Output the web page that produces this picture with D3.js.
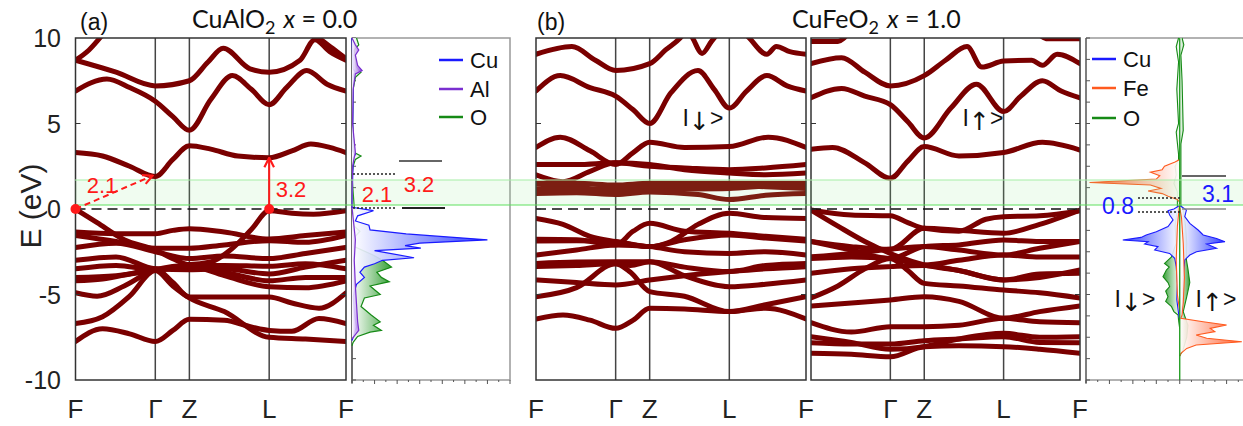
<!doctype html>
<html lang="en">
<head>
<meta charset="utf-8" />
<title>CuAlO2 / CuFeO2 band structure</title>
<style>
  html, body { margin: 0; padding: 0; background: #fff; }
  svg { display: block; font-family: "Liberation Sans", Arial, sans-serif; }
</style>
</head>
<body>
<svg id="chart" width="1243" height="426"></svg>
<script src="https://cdn.jsdelivr.net/npm/d3@7"></script>
<script>

// k-path (fractional distance along F-Γ-Z-L-F)
var kTicks = [0, 0.295, 0.421, 0.716, 1];
var kLabels = ['F', 'Γ', 'Z', 'L', 'F'];
var eTicks = [10, 5, 0, -5, -10];

// bands, CuAlO2 (x = 0.0) : [k, E]
var bandsAlO = [
  [[0,3.3],[0.1,3.1],[0.2,2.5],[0.295,1.9],[0.36,2.9],[0.421,3.7],[0.5,3.5],[0.6,3.1],[0.716,3.0],[0.8,3.4],[0.87,3.8],[0.94,3.6],[1,3.3]],
  [[0,6.9],[0.116,7.6],[0.2,7.1],[0.295,6.3],[0.36,5.4],[0.421,4.6],[0.5,6.4],[0.58,7.8],[0.65,7.0],[0.716,6.1],[0.78,7.1],[0.855,8.1],[0.93,7.3],[1,6.9]],
  [[0,8.7],[0.15,8.0],[0.295,7.2],[0.421,7.5],[0.49,8.6],[0.546,9.4],[0.645,8.2],[0.716,8.0],[0.83,8.7],[0.885,9.9],[0.94,9.2],[1,8.7]],
  [[0,8.7],[0.05,9.3],[0.09,10.0],[0.12,10.6]],
  [[0.87,10.4],[0.9,10.0],[0.95,9.4],[1,8.8]],
  [[0,0],[0.08,-0.8],[0.18,-1.8],[0.295,-2.4],[0.36,-2.9],[0.421,-3.25],[0.5,-3.1],[0.58,-2.3],[0.65,-1.2],[0.716,-0.1],[0.8,-0.25],[0.88,-0.3],[1,-0.1]],
  [[0,-1.35],[0.15,-1.45],[0.295,-1.45],[0.36,-1.25],[0.421,-1.15],[0.55,-1.35],[0.716,-1.75],[0.85,-1.55],[1,-1.35]],
  [[0,-1.55],[0.15,-1.9],[0.295,-2.3],[0.421,-2.3],[0.55,-2.1],[0.716,-1.85],[0.85,-1.95],[1,-1.55]],
  [[0,-2.25],[0.15,-2.0],[0.295,-2.5],[0.421,-2.9],[0.55,-2.75],[0.716,-2.9],[0.85,-2.6],[1,-2.25]],
  [[0,-3.0],[0.15,-2.8],[0.295,-3.5],[0.421,-3.55],[0.55,-3.5],[0.716,-3.8],[0.85,-3.4],[1,-3.0]],
  [[0,-3.5],[0.15,-3.3],[0.295,-3.55],[0.421,-3.35],[0.55,-3.9],[0.716,-4.55],[0.85,-4.6],[1,-4.2]],
  [[0,-4.0],[0.15,-3.9],[0.295,-3.6],[0.421,-3.4],[0.55,-3.7],[0.716,-4.2],[0.85,-4.0],[1,-4.0]],
  [[0,-4.2],[0.1,-4.1],[0.2,-3.8],[0.295,-3.5],[0.36,-4.3],[0.421,-5.15],[0.55,-5.15],[0.716,-5.15],[0.8,-5.5],[0.9,-5.8],[1,-4.9]],
  [[0,-4.9],[0.08,-5.1],[0.18,-4.5],[0.295,-3.55],[0.421,-3.3],[0.55,-3.3],[0.716,-3.35],[0.85,-3.2],[1,-3.5]],
  [[0,-6.7],[0.1,-6.3],[0.2,-5.1],[0.295,-3.6],[0.36,-4.5],[0.421,-5.2],[0.55,-6.0],[0.716,-7.5],[0.85,-7.6],[1,-7.75]],
  [[0,-7.75],[0.1,-7.0],[0.2,-7.3],[0.295,-7.75],[0.36,-7.1],[0.421,-6.45],[0.55,-6.5],[0.65,-6.9],[0.716,-7.1],[0.8,-7.15],[0.9,-6.4],[1,-6.7]]
];

// bands, CuFeO2 (x = 1.0) spin down
var bandsFeDn = [
  [[0,9.05],[0.133,9.5],[0.22,8.7],[0.295,8.1],[0.421,8.5],[0.48,9.3],[0.54,10.1],[0.56,10.5]],
  [[0.56,10.5],[0.58,10],[0.615,9.1],[0.65,9.8],[0.67,10.2]],
  [[0.76,10.5],[0.79,10],[0.855,9.05],[0.89,9.5],[0.94,9.2],[1,9.05]],
  [[0,6.9],[0.09,7.8],[0.2,7.1],[0.295,6.6],[0.36,5.8],[0.421,5.0],[0.5,6.8],[0.6,8.1],[0.66,7.0],[0.716,5.9],[0.78,6.9],[0.855,7.8],[0.93,7.2],[1,6.9]],
  [[0,3.6],[0.09,4.2],[0.2,3.4],[0.295,2.6],[0.36,3.3],[0.421,3.9],[0.55,3.6],[0.716,3.65],[0.86,4.2],[1,3.6]],
  [[0,2.6],[0.15,2.6],[0.295,2.7],[0.421,2.5],[0.55,2.4],[0.716,2.3],[0.85,2.4],[1,2.6]],
  [[0,2.0],[0.1,1.6],[0.2,2.2],[0.295,2.7],[0.421,2.6],[0.55,2.3],[0.716,2.1],[0.85,2.0],[1,2.1]],
  [[0,1.5],[0.15,1.5],[0.295,1.4],[0.421,1.5],[0.716,1.5],[0.85,1.5],[1,1.5]],
  [[0,1.45],[0.15,1.3],[0.295,1.0],[0.421,1.15],[0.716,1.2],[0.85,1.35],[1,1.45]],
  [[0,1.15],[0.15,1.15],[0.295,1.25],[0.421,1.35],[0.716,1.4],[0.85,1.3],[1,1.2]],
  [[0,0.9],[0.15,0.95],[0.295,0.85],[0.421,1.0],[0.6,0.85],[0.716,0.55],[0.85,0.8],[1,0.9]],
  [[0,-0.55],[0.1,-0.9],[0.2,-1.6],[0.295,-1.9],[0.421,-2.2],[0.5,-1.9],[0.6,-0.9],[0.716,-0.25],[0.85,-0.5],[1,-0.55]],
  [[0,-1.77],[0.15,-1.8],[0.295,-2.1],[0.36,-1.3],[0.421,-0.84],[0.55,-1.3],[0.716,-1.42],[0.85,-1.6],[1,-1.77]],
  [[0,-1.87],[0.15,-1.85],[0.295,-1.91],[0.421,-2.2],[0.55,-1.8],[0.716,-1.52],[0.85,-1.7],[1,-1.87]],
  [[0,-2.69],[0.15,-2.4],[0.295,-2.1],[0.421,-2.2],[0.55,-2.5],[0.716,-2.6],[0.85,-2.5],[1,-2.69]],
  [[0,-3.18],[0.15,-3.1],[0.295,-3.08],[0.421,-3.08],[0.55,-3.4],[0.716,-3.66],[0.85,-3.3],[1,-3.18]],
  [[0,-3.37],[0.15,-3.3],[0.295,-3.2],[0.35,-3.7],[0.421,-4.83],[0.55,-5.1],[0.716,-6.0],[0.85,-5.6],[1,-5.13]],
  [[0,-4.15],[0.15,-4.3],[0.295,-4.44],[0.421,-4.15],[0.55,-3.9],[0.716,-3.66],[0.85,-3.5],[1,-3.37]],
  [[0,-5.13],[0.15,-4.6],[0.295,-3.2],[0.35,-3.3],[0.421,-3.08],[0.55,-3.9],[0.716,-4.54],[0.85,-4.4],[1,-4.15]],
  [[0,-6.43],[0.1,-6.2],[0.2,-6.5],[0.295,-6.98],[0.36,-6.5],[0.421,-5.81],[0.55,-5.85],[0.716,-6.0],[0.85,-5.8],[1,-6.43]]
];

// bands, CuFeO2 (x = 1.0) spin up
var bandsFeUp = [
  [[0,9.8],[0.1,9.8],[0.14,10.3]],
  [[0.84,10.3],[0.88,9.95],[1,9.95]],
  [[0,8.5],[0.114,8.85],[0.2,8.0],[0.295,7.2],[0.421,7.8],[0.5,8.7],[0.58,9.5],[0.635,8.3],[0.716,8.65],[0.82,8.7],[0.86,8.4],[0.915,9.05],[1,8.5]],
  [[0,6.5],[0.114,7.05],[0.2,6.6],[0.295,6.1],[0.36,5.1],[0.421,4.15],[0.52,5.9],[0.615,7.3],[0.716,5.7],[0.78,6.6],[0.86,7.5],[0.93,6.9],[1,6.5]],
  [[0,3.5],[0.08,3.6],[0.2,2.7],[0.295,1.8],[0.36,2.8],[0.421,3.65],[0.55,3.1],[0.716,3.3],[0.86,3.9],[1,3.45]],
  [[0,-0.06],[0.15,-0.35],[0.295,-0.4],[0.36,-0.8],[0.421,-1.13],[0.55,-1.3],[0.65,-0.6],[0.716,-0.45],[0.85,-0.4],[1,-0.1]],
  [[0,-0.06],[0.1,-1.0],[0.2,-1.9],[0.295,-2.6],[0.421,-3.27],[0.55,-3.6],[0.716,-4.15],[0.85,-4.0],[1,-3.57]],
  [[0,-1.9],[0.15,-2.2],[0.295,-2.36],[0.421,-1.13],[0.55,-1.25],[0.716,-1.42],[0.85,-0.9],[1,-0.06]],
  [[0,-1.9],[0.15,-2.4],[0.295,-2.9],[0.421,-2.2],[0.55,-2.1],[0.716,-1.81],[0.85,-1.9],[1,-1.9]],
  [[0,-2.8],[0.15,-2.6],[0.295,-2.36],[0.421,-2.2],[0.55,-2.4],[0.716,-2.69],[0.85,-2.3],[1,-1.9]],
  [[0,-2.9],[0.15,-2.8],[0.295,-2.9],[0.421,-3.27],[0.55,-3.0],[0.716,-2.69],[0.85,-2.8],[1,-2.8]],
  [[0,-5.2],[0.1,-4.5],[0.2,-3.5],[0.295,-2.9],[0.36,-3.6],[0.421,-4.35],[0.55,-4.5],[0.716,-4.74],[0.85,-4.9],[1,-5.2]],
  [[0,-3.76],[0.15,-3.5],[0.295,-3.37],[0.421,-3.3],[0.55,-3.6],[0.716,-4.15],[0.85,-3.8],[1,-3.76]],
  [[0,-5.67],[0.15,-5.5],[0.295,-5.32],[0.421,-5.13],[0.55,-5.4],[0.716,-6.39],[0.85,-6.0],[1,-5.67]],
  [[0,-6.65],[0.15,-7.2],[0.295,-6.88],[0.421,-6.88],[0.55,-6.8],[0.716,-6.39],[0.85,-6.6],[1,-6.65]],
  [[0,-7.47],[0.15,-7.8],[0.295,-8.2],[0.421,-8.05],[0.55,-7.6],[0.716,-7.27],[0.85,-7.5],[1,-7.47]],
  [[0,-7.82],[0.15,-7.9],[0.295,-7.9],[0.421,-7.7],[0.55,-7.6],[0.716,-7.47],[0.85,-7.8],[1,-7.82]],
  [[0,-8.44],[0.15,-8.5],[0.295,-8.64],[0.421,-8.05],[0.55,-8.0],[0.716,-8.05],[0.85,-8.2],[1,-8.44]]
];

// PDOS CuAlO2 : [E, dos]
var dosCuA = [[10,0],[8.2,0.1],[8.0,0.3],[7.8,0.1],[3.4,0.05],[3.2,0.3],[3.0,0.1],[0.1,0],[-0.1,1.9],[-0.4,0.5],[-0.7,0.3],[-0.95,1.5],[-1.22,1.6],[-1.46,4.8],[-1.8,12.0],[-2.0,6.0],[-2.14,4.7],[-2.29,6.1],[-2.43,2.0],[-2.85,5.5],[-3.0,2.7],[-3.2,2.0],[-3.4,1.1],[-3.7,0.7],[-4.0,1.1],[-4.4,0.4],[-4.75,0.25],[-5.15,0.1],[-6.3,0.25],[-6.9,0.4],[-7.5,0.1],[-7.7,0]];
var dosAlA = [[10,0],[9.6,0.3],[9.3,0.6],[9.0,0.3],[8.4,0.5],[8.1,0.9],[7.9,0.3],[7,0.1],[5,0.05],[3.3,0.3],[3.0,0.2],[2.5,0.05],[0.1,0],[-1.8,0.3],[-3,0.2],[-4.5,0.3],[-6.6,0.5],[-7.1,0.6],[-7.6,0]];
var dosOA = [[10,0.4],[9.6,0.6],[9.3,0.2],[8.8,0.3],[8.3,0.4],[8.0,0.8],[7.7,0.3],[7,0.1],[5,0.05],[3.3,0.2],[3.1,0.8],[2.9,0.3],[2.5,0.1],[1.9,0],[0.1,0.2],[-0.5,0.1],[-1.0,0.2],[-1.3,0.7],[-1.6,0.3],[-2.2,0.2],[-2.7,1.9],[-3.0,2.7],[-3.4,3.5],[-3.7,2.2],[-4.0,2.6],[-4.25,3.3],[-4.5,1.6],[-5.0,2.5],[-5.2,1.1],[-5.7,0.8],[-6.2,1.7],[-6.6,2.5],[-6.8,1.9],[-7.1,2.6],[-7.2,1.6],[-7.45,0.5],[-7.8,0.1],[-8,0]];

// PDOS CuFeO2, spin down (negative) and spin up
var dosCuDn = [[0.2,0],[0.0,-0.5],[-0.1,-1.0],[-0.35,-0.86],[-0.64,-0.57],[-1.03,-1.0],[-1.33,-2.0],[-1.52,-2.86],[-1.66,-3.3],[-1.81,-4.86],[-1.91,-2.7],[-2.05,-3.0],[-2.2,-1.86],[-2.4,-2.14],[-2.6,-0.86],[-2.88,-0.43],[-3.37,-0.3],[-4.35,-0.2],[-5.3,-0.25],[-6.1,-0.1],[-6.5,0]];
var dosCuUp = [[0.2,0],[-0.06,0.57],[-0.45,0.43],[-0.84,0.86],[-1.23,1.57],[-1.52,2.0],[-1.72,3.14],[-1.91,3.86],[-2.05,2.3],[-2.3,3.14],[-2.5,1.43],[-2.69,0.86],[-2.98,0.43],[-4.0,0.3],[-5.5,0.25],[-6.2,0.1],[-6.5,0]];
var dosFeDn = [[2.9,0],[2.75,-0.4],[2.5,-1.3],[2.3,-1.5],[2.15,-2.5],[1.95,-1.7],[1.75,-2.0],[1.55,-7.7],[1.4,-2.5],[1.2,-1.6],[1.05,-2.7],[0.9,-1.5],[0.75,-1.0],[0.55,-0.2],[0.4,0],[-1,-0.2],[-3,-0.3],[-5,-0.2],[-6,0]];
var dosFeUp = [[0.1,0],[-0.5,0.15],[-2,0.3],[-4,0.4],[-5.5,0.3],[-6.2,0.2],[-6.39,0.1],[-6.59,2.0],[-6.78,4.0],[-6.98,2.6],[-7.17,3.0],[-7.37,1.4],[-7.56,2.3],[-7.76,5.3],[-7.95,1.4],[-8.15,0.6],[-8.44,0.1],[-8.6,0]];
var dosODn = [[10,-0.1],[9.5,-0.3],[8.6,-0.1],[7,-0.25],[5,-0.1],[4.5,-0.3],[3.2,-0.1],[2.9,-0.1],[2.5,-0.4],[2.0,-0.3],[1.5,-0.5],[1.0,-0.2],[0,-0.2],[-1,-0.4],[-2,-0.3],[-2.8,-0.7],[-3.18,-1.3],[-3.4,-0.9],[-3.57,-1.14],[-3.96,-1.43],[-4.3,-1.0],[-4.54,-0.86],[-4.8,-1.2],[-5.13,-1.0],[-5.4,-1.2],[-5.71,-0.7],[-6.0,-0.5],[-6.2,-0.14],[-6.5,-0.1],[-7,0]];
var dosOUp = [[10,0.2],[9.6,0.35],[9.0,0.1],[7.5,0.2],[4.6,0.3],[3.8,0.1],[0.2,0.1],[0,0.3],[-1,0.5],[-2,0.6],[-2.98,0.57],[-3.5,0.7],[-4.3,0.86],[-5.13,0.6],[-6,0.3],[-6.8,0.7],[-7.5,0.6],[-8.2,0.3],[-8.6,0]];

// layout
var svg = d3.select('#chart');
var yE = d3.scaleLinear().domain([-10, 10]).range([380, 38]);
var bandColor = '#7a0000';

var panels = [
  {id: 'pa', x0: 75.5, x1: 346, bands: bandsAlO, first: true},
  {id: 'pb1', x0: 536, x1: 806, bands: bandsFeDn, first: true},
  {id: 'pb2', x0: 811, x1: 1080, bands: bandsFeUp, first: false}
];

var defs = svg.append('defs');

function gradient(id, color, reverse) {
  var g = defs.append('linearGradient').attr('id', id)
    .attr('x1', reverse ? 1 : 0).attr('x2', reverse ? 0 : 1).attr('y1', 0).attr('y2', 0);
  g.append('stop').attr('offset', '0%').attr('stop-color', '#fff').attr('stop-opacity', 0.9);
  g.append('stop').attr('offset', '100%').attr('stop-color', color).attr('stop-opacity', 0.95);
}
gradient('gCu', '#2233ff', false);
gradient('gO', '#2a9a2a', false);
gradient('gAl', '#8a3ee0', false);
gradient('gCuL', '#2233ff', true);
gradient('gOL', '#2a9a2a', true);
gradient('gFeL', '#ff5522', true);
gradient('gFe', '#ff5522', false);

var bandLine = d3.line().curve(d3.curveMonotoneX);

panels.forEach(function (p) {
  var xk = d3.scaleLinear().domain([0, 1]).range([p.x0, p.x1]);
  p.xk = xk;

  defs.append('clipPath').attr('id', 'clip-' + p.id)
    .append('rect').attr('x', p.x0).attr('y', 38).attr('width', p.x1 - p.x0).attr('height', 342);

  var g = svg.append('g');

  // symmetry lines
  g.selectAll('line.sym').data(kTicks.slice(1, -1)).enter().append('line')
    .attr('x1', xk).attr('x2', xk).attr('y1', 38).attr('y2', 380)
    .attr('stroke', '#444').attr('stroke-width', 1.5);

  // bands
  bandLine.x(function (d) { return xk(d[0]); }).y(function (d) { return yE(d[1]); });
  g.append('g').attr('clip-path', 'url(#clip-' + p.id + ')')
    .selectAll('path').data(p.bands).enter().append('path')
    .attr('d', bandLine)
    .attr('fill', 'none').attr('stroke', bandColor).attr('stroke-width', 5)
    .attr('stroke-linecap', 'round').attr('stroke-linejoin', 'round');

  // Fermi level
  g.append('line').attr('x1', p.x0).attr('x2', p.x1).attr('y1', yE(0)).attr('y2', yE(0))
    .attr('stroke', '#111').attr('stroke-width', 1.6).attr('stroke-dasharray', '10,6');

  // frame
  g.append('rect').attr('x', p.x0).attr('y', 38).attr('width', p.x1 - p.x0).attr('height', 342)
    .attr('fill', 'none').attr('stroke', '#333').attr('stroke-width', 1.5);

  // y ticks inside
  g.selectAll('line.yt').data(eTicks.slice(1, -1)).enter().append('line')
    .attr('x1', p.x0).attr('x2', p.x0 + 5).attr('y1', yE).attr('y2', yE).attr('stroke', '#333');
  g.selectAll('line.yt2').data(eTicks.slice(1, -1)).enter().append('line')
    .attr('x1', p.x1).attr('x2', p.x1 - 5).attr('y1', yE).attr('y2', yE).attr('stroke', '#333');

  // k labels (shared F between the two spin panels)
  var idx = p.first ? [0, 1, 2, 3, 4] : [1, 2, 3, 4];
  g.selectAll('text.k').data(idx).enter().append('text')
    .attr('x', function (i) { return xk(kTicks[i]) + (!p.first && i === 0 ? 0 : 0); })
    .attr('y', 418).attr('text-anchor', 'middle')
    .attr('font-size', 26).attr('fill', '#222')
    .text(function (i) { return kLabels[i]; });
});

// y axis labels (panel a)
svg.selectAll('text.yl').data(eTicks).enter().append('text')
  .attr('x', 61).attr('y', function (d) { return yE(d) + 9; })
  .attr('text-anchor', 'end').attr('font-size', 25).attr('fill', '#222')
  .text(function (d) { return d; });
svg.append('text').attr('transform', 'translate(41,206) rotate(-90)')
  .attr('text-anchor', 'middle').attr('font-size', 30).attr('fill', '#222').text('E (eV)');

// ---- DOS panel (a)
var xDa = d3.scaleLinear().domain([0, 14]).range([352, 510]);
var gDa = svg.append('g');
gDa.append('rect').attr('x', 352).attr('y', 38).attr('width', 158).attr('height', 342)
  .attr('fill', 'none').attr('stroke', '#999').attr('stroke-width', 1.5);
gDa.append('line').attr('x1', 352).attr('x2', 352).attr('y1', 38).attr('y2', 383)
  .attr('stroke', '#555').attr('stroke-width', 1.5);
gDa.selectAll('line.t').data(d3.range(0, 14.01, 1)).enter().append('line')
  .attr('x1', xDa).attr('x2', xDa).attr('y1', 380).attr('y2', function (d, i) { return i % 2 ? 382 : 384; })
  .attr('stroke', '#555');
gDa.selectAll('line.ty').data(d3.range(-10, 10.01, 1.25)).enter().append('line')
  .attr('x1', 352).attr('x2', 356).attr('y1', yE).attr('y2', yE).attr('stroke', '#555');

var areaA = d3.area().y(function (d) { return yE(d[0]); }).x0(xDa(0)).x1(function (d) { return xDa(d[1]); });
var lineA = d3.line().y(function (d) { return yE(d[0]); }).x(function (d) { return xDa(d[1]); });
[[dosOA, 'gO', '#168a16'], [dosCuA, 'gCu', '#1a1aff'], [dosAlA, 'gAl', '#7a2fd0']].forEach(function (s) {
  gDa.append('path').attr('d', areaA(s[0])).attr('fill', 'url(#' + s[1] + ')');
  gDa.append('path').attr('d', lineA(s[0])).attr('fill', 'none').attr('stroke', s[2]).attr('stroke-width', 1.2);
});

// ---- DOS panel (b)
var xDb = d3.scaleLinear().domain([-8, 5.4]).range([1086, 1243]);
var gDb = svg.append('g');
gDb.append('line').attr('x1', 1086).attr('x2', 1243).attr('y1', 38).attr('y2', 38).attr('stroke', '#999').attr('stroke-width', 1.5);
gDb.append('line').attr('x1', 1086).attr('x2', 1243).attr('y1', 380).attr('y2', 380).attr('stroke', '#999').attr('stroke-width', 1.5);
gDb.append('line').attr('x1', 1086).attr('x2', 1086).attr('y1', 38).attr('y2', 383).attr('stroke', '#555').attr('stroke-width', 1.5);
gDb.selectAll('line.t').data(d3.range(-8, 5.01, 1)).enter().append('line')
  .attr('x1', xDb).attr('x2', xDb).attr('y1', 380).attr('y2', function (d) { return d % 2 ? 382 : 384; })
  .attr('stroke', '#555');
gDb.selectAll('line.ty').data(d3.range(-10, 10.01, 1.25)).enter().append('line')
  .attr('x1', 1086).attr('x2', 1090).attr('y1', yE).attr('y2', yE).attr('stroke', '#555');

var areaB = d3.area().y(function (d) { return yE(d[0]); }).x0(xDb(0)).x1(function (d) { return xDb(d[1]); });
var lineB = d3.line().y(function (d) { return yE(d[0]); }).x(function (d) { return xDb(d[1]); });
[[dosODn, 'gOL', '#168a16'], [dosOUp, 'gO', '#168a16'],
 [dosCuDn, 'gCuL', '#1a1aff'], [dosCuUp, 'gCu', '#1a1aff'],
 [dosFeDn, 'gFeL', '#ff5a1f'], [dosFeUp, 'gFe', '#ff5a1f']].forEach(function (s) {
  gDb.append('path').attr('d', areaB(s[0])).attr('fill', 'url(#' + s[1] + ')');
  gDb.append('path').attr('d', lineB(s[0])).attr('fill', 'none').attr('stroke', s[2]).attr('stroke-width', 1.1);
});
gDb.append('line').attr('x1', xDb(0)).attr('x2', xDb(0)).attr('y1', 38).attr('y2', 380)
  .attr('stroke', '#1a9a1a').attr('stroke-width', 1.3);

// ---- gap highlight band
svg.append('rect').attr('x', 75).attr('y', 180).attr('width', 1168).attr('height', 25)
  .attr('fill', '#8ee68e').attr('fill-opacity', 0.13);
svg.append('line').attr('x1', 75).attr('x2', 1243).attr('y1', 180).attr('y2', 180).attr('stroke', '#a6eea6').attr('stroke-width', 1.2);
svg.append('line').attr('x1', 75).attr('x2', 1243).attr('y1', 205).attr('y2', 205).attr('stroke', '#5ee05e').attr('stroke-width', 1.2);

// ---- gap annotations (a)
var red = '#ff1a1a';
var xa = panels[0].xk;
defs.append('marker').attr('id', 'arr').attr('viewBox', '0 0 10 10').attr('refX', 9).attr('refY', 5)
  .attr('markerWidth', 12).attr('markerHeight', 12).attr('orient', 'auto').attr('markerUnits', 'userSpaceOnUse')
  .append('path').attr('d', 'M1,1 L9,5 L1,9').attr('fill', 'none').attr('stroke', red).attr('stroke-width', 1.8);

svg.append('line').attr('x1', xa(0)).attr('y1', yE(0)).attr('x2', xa(0.285)).attr('y2', yE(1.95))
  .attr('stroke', red).attr('stroke-width', 2).attr('stroke-dasharray', '6,4').attr('marker-end', 'url(#arr)');
svg.append('line').attr('x1', xa(0.716)).attr('y1', yE(0)).attr('x2', xa(0.716)).attr('y2', yE(3.0))
  .attr('stroke', red).attr('stroke-width', 2).attr('marker-end', 'url(#arr)');
svg.selectAll('circle.pt').data([0, 0.716]).enter().append('circle')
  .attr('cx', xa).attr('cy', yE(0)).attr('r', 5).attr('fill', red);
svg.append('text').attr('x', 102).attr('y', 193).attr('text-anchor', 'middle').attr('font-size', 22).attr('fill', red).text('2.1');
svg.append('text').attr('x', 291).attr('y', 197).attr('text-anchor', 'middle').attr('font-size', 22).attr('fill', red).text('3.2');

// DOS (a) gap markers
svg.append('line').attr('x1', 353).attr('x2', 397).attr('y1', 174).attr('y2', 174).attr('stroke', '#222').attr('stroke-width', 1.5).attr('stroke-dasharray', '2,2');
svg.append('line').attr('x1', 353).attr('x2', 397).attr('y1', 208).attr('y2', 208).attr('stroke', '#222').attr('stroke-width', 1.5).attr('stroke-dasharray', '2,2');
svg.append('line').attr('x1', 399).attr('x2', 442).attr('y1', 161).attr('y2', 161).attr('stroke', '#333').attr('stroke-width', 1.5);
svg.append('line').attr('x1', 402).attr('x2', 445).attr('y1', 208).attr('y2', 208).attr('stroke', '#222').attr('stroke-width', 1.8);
svg.append('text').attr('x', 377).attr('y', 202).attr('text-anchor', 'middle').attr('font-size', 22).attr('fill', red).text('2.1');
svg.append('text').attr('x', 419).attr('y', 192).attr('text-anchor', 'middle').attr('font-size', 22).attr('fill', red).text('3.2');

// DOS (b) gap markers
var blue = '#1a1aff';
svg.append('line').attr('x1', 1182).attr('x2', 1226).attr('y1', 176).attr('y2', 176).attr('stroke', '#333').attr('stroke-width', 1.5);
svg.append('line').attr('x1', 1182).attr('x2', 1226).attr('y1', 209).attr('y2', 209).attr('stroke', '#888').attr('stroke-width', 1.5);
svg.append('line').attr('x1', 1138).attr('x2', 1180).attr('y1', 198).attr('y2', 198).attr('stroke', '#222').attr('stroke-width', 1.5).attr('stroke-dasharray', '2,2');
svg.append('line').attr('x1', 1138).attr('x2', 1180).attr('y1', 212).attr('y2', 212).attr('stroke', '#222').attr('stroke-width', 1.5).attr('stroke-dasharray', '2,2');
svg.append('text').attr('x', 1218).attr('y', 202).attr('text-anchor', 'middle').attr('font-size', 23).attr('fill', blue).text('3.1');
svg.append('text').attr('x', 1118).attr('y', 214).attr('text-anchor', 'middle').attr('font-size', 23).attr('fill', blue).text('0.8');

// ---- legends
function legend(x, items) {
  var g = svg.append('g');
  items.forEach(function (it) {
    g.append('line').attr('x1', x).attr('x2', x + 24).attr('y1', it[2]).attr('y2', it[2])
      .attr('stroke', it[1]).attr('stroke-width', 2.5);
    g.append('text').attr('x', x + 31).attr('y', it[2] + 8).attr('font-size', 22).attr('fill', '#111').text(it[0]);
  });
}
legend(439, [['Cu', '#1a1aff', 60], ['Al', '#7a2fd0', 89], ['O', '#168a16', 117]]);
legend(1092, [['Cu', '#1a1aff', 59], ['Fe', '#ff5a1f', 88], ['O', '#168a16', 118]]);

// ---- spin labels
function spin(x, y, arrow) {
  var t = svg.append('text').attr('x', x).attr('y', y).attr('font-size', 23).attr('fill', '#111')
    .attr('text-anchor', 'middle');
  t.append('tspan').text('I');
  t.append('tspan').attr('font-family', '"DejaVu Sans"').attr('font-size', 25).attr('dy', 4).text(arrow);
  t.append('tspan').attr('dy', -4).text('>');
}
spin(703, 126, '↓');
spin(983, 126, '↑');
spin(1135, 307, '↓');
spin(1216, 307, '↑');

// ---- titles
svg.append('text').attr('x', 80).attr('y', 30).attr('font-size', 23).attr('fill', '#111').text('(a)');
svg.append('text').attr('x', 537).attr('y', 30).attr('font-size', 23).attr('fill', '#111').text('(b)');
function title(x, formula, val) {
  var t = svg.append('text').attr('x', x).attr('y', 28).attr('font-size', 25).attr('fill', '#111')
    .style('font-family', 'Lato, "Open Sans", sans-serif');
  t.append('tspan').text(formula);
  t.append('tspan').attr('font-size', 18).attr('dy', 6).text('2');
  t.append('tspan').attr('dy', -6).attr('dx', 8).attr('font-style', 'italic').text('x');
  t.append('tspan').text(' = ' + val);
}
title(192, 'CuAlO', '0.0');
title(792, 'CuFeO', '1.0');

</script>
</body>
</html>
